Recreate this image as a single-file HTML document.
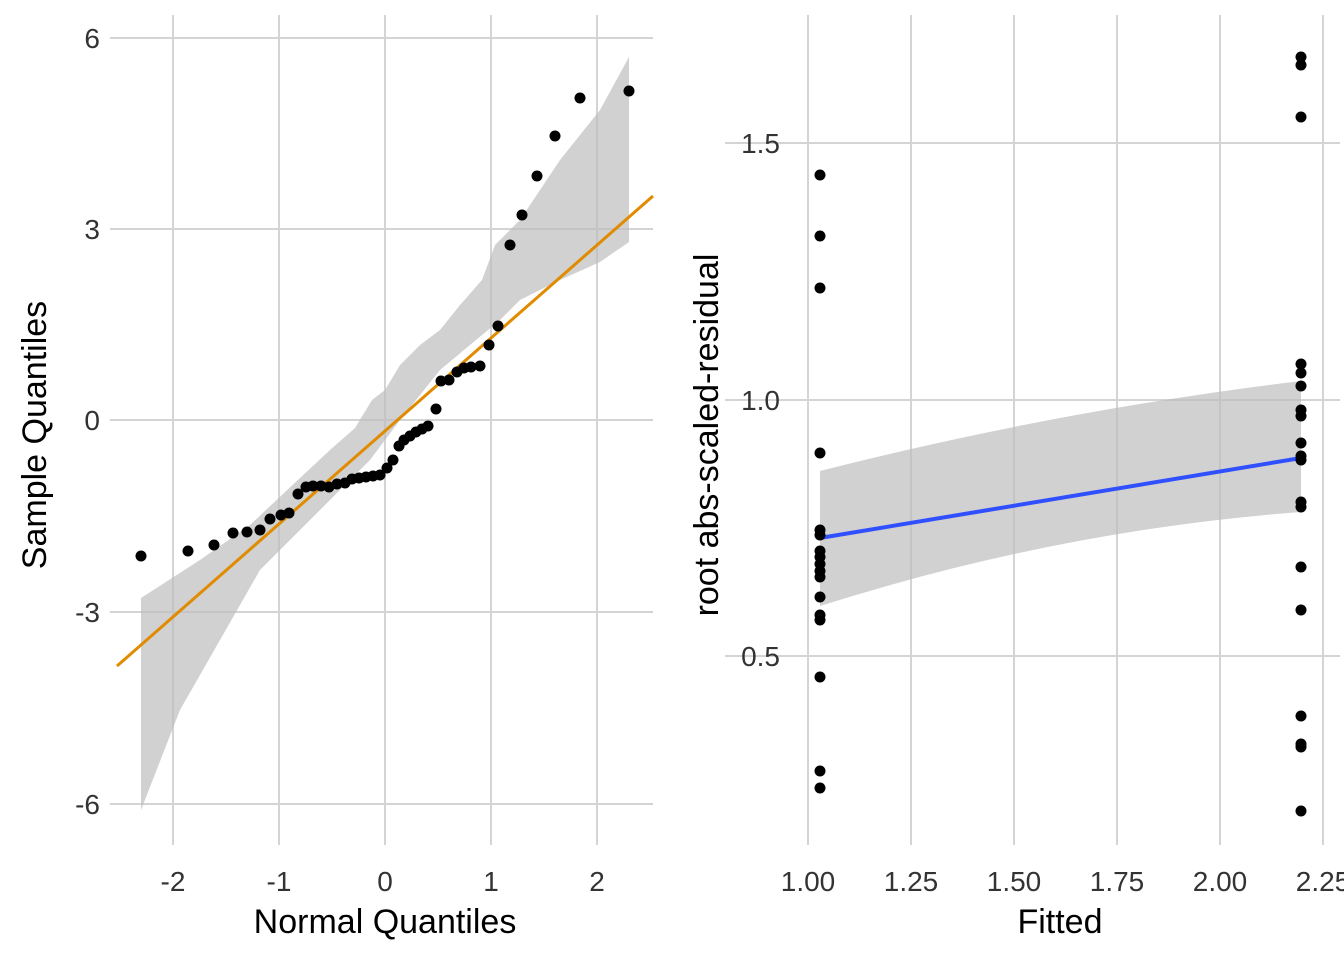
<!DOCTYPE html>
<html><head><meta charset="utf-8"><style>body{margin:0;background:#fff}svg{display:block}text{font-family:"Liberation Sans",sans-serif}</style></head><body>
<svg width="1344" height="960" viewBox="0 0 1344 960">
<g stroke="#d4d4d4" stroke-width="2" fill="none">
<line x1="110" y1="38" x2="653" y2="38"/><line x1="110" y1="229" x2="653" y2="229"/><line x1="110" y1="420" x2="653" y2="420"/><line x1="110" y1="612" x2="653" y2="612"/><line x1="110" y1="804" x2="653" y2="804"/>
<line x1="173" y1="15" x2="173" y2="845"/><line x1="279" y1="15" x2="279" y2="845"/><line x1="385" y1="15" x2="385" y2="845"/><line x1="491" y1="15" x2="491" y2="845"/><line x1="597" y1="15" x2="597" y2="845"/>
<line x1="725" y1="143" x2="1340" y2="143"/><line x1="725" y1="400" x2="1340" y2="400"/><line x1="725" y1="656" x2="1340" y2="656"/>
<line x1="808" y1="15" x2="808" y2="845"/><line x1="911" y1="15" x2="911" y2="845"/><line x1="1014" y1="15" x2="1014" y2="845"/><line x1="1117" y1="15" x2="1117" y2="845"/><line x1="1220" y1="15" x2="1220" y2="845"/><line x1="1323" y1="15" x2="1323" y2="845"/>
</g>
<polygon fill="#bdbdbd" fill-opacity="0.7" points="141,598 200,560 250,525 300,478 330,450 355,428 372,400 385,390 400,365 420,345 440,330 460,305 482,280 495,245 520,220 560,160 600,110 629,57 629,242 600,262 560,280 520,300 500,320 470,345 440,370 400,420 370,460 330,500 300,530 260,570 220,640 180,710 141,810"/>
<line x1="117" y1="666" x2="653" y2="196" stroke="#e08b00" stroke-width="3"/>
<g fill="#000">
<circle cx="141" cy="556" r="5.5"/><circle cx="188" cy="551" r="5.5"/><circle cx="214" cy="545" r="5.5"/><circle cx="233" cy="533" r="5.5"/><circle cx="247" cy="532" r="5.5"/><circle cx="260" cy="530" r="5.5"/><circle cx="270" cy="519" r="5.5"/><circle cx="281" cy="515" r="5.5"/><circle cx="289" cy="513" r="5.5"/><circle cx="298" cy="494" r="5.5"/><circle cx="306" cy="487" r="5.5"/><circle cx="313" cy="486" r="5.5"/><circle cx="321" cy="486" r="5.5"/><circle cx="329" cy="487" r="5.5"/><circle cx="337" cy="484" r="5.5"/><circle cx="345" cy="483" r="5.5"/><circle cx="352" cy="479" r="5.5"/><circle cx="359" cy="478" r="5.5"/><circle cx="366" cy="477" r="5.5"/><circle cx="373" cy="476" r="5.5"/><circle cx="380" cy="475" r="5.5"/><circle cx="387" cy="468" r="5.5"/><circle cx="393" cy="460" r="5.5"/><circle cx="399" cy="446" r="5.5"/><circle cx="404" cy="440" r="5.5"/><circle cx="410" cy="436" r="5.5"/><circle cx="416" cy="432" r="5.5"/><circle cx="422" cy="429" r="5.5"/><circle cx="428" cy="426" r="5.5"/><circle cx="436" cy="409" r="5.5"/><circle cx="441" cy="381" r="5.5"/><circle cx="449" cy="380" r="5.5"/><circle cx="457" cy="372" r="5.5"/><circle cx="464" cy="368" r="5.5"/><circle cx="471" cy="367" r="5.5"/><circle cx="480" cy="366" r="5.5"/><circle cx="489" cy="345" r="5.5"/><circle cx="498" cy="326" r="5.5"/><circle cx="510" cy="245" r="5.5"/><circle cx="522" cy="215" r="5.5"/><circle cx="537" cy="176" r="5.5"/><circle cx="555" cy="136" r="5.5"/><circle cx="580" cy="98" r="5.5"/><circle cx="629" cy="91" r="5.5"/>
</g>
<path fill="#bdbdbd" fill-opacity="0.7" d="M820,471 Q1060,410 1301,381 L1301,512 Q1060,530 820,606 Z"/>
<line x1="820" y1="538" x2="1301" y2="458" stroke="#3050ff" stroke-width="4"/>
<g fill="#000">
<circle cx="820" cy="175" r="5.5"/><circle cx="820" cy="236" r="5.5"/><circle cx="820" cy="288" r="5.5"/><circle cx="820" cy="453" r="5.5"/><circle cx="820" cy="530" r="5.5"/><circle cx="820" cy="535" r="5.5"/><circle cx="820" cy="551" r="5.5"/><circle cx="820" cy="557" r="5.5"/><circle cx="820" cy="564" r="5.5"/><circle cx="820" cy="571" r="5.5"/><circle cx="820" cy="577" r="5.5"/><circle cx="820" cy="597" r="5.5"/><circle cx="820" cy="615" r="5.5"/><circle cx="820" cy="620" r="5.5"/><circle cx="820" cy="677" r="5.5"/><circle cx="820" cy="771" r="5.5"/><circle cx="820" cy="788" r="5.5"/>
<circle cx="1301" cy="57" r="5.5"/><circle cx="1301" cy="65" r="5.5"/><circle cx="1301" cy="117" r="5.5"/><circle cx="1301" cy="364" r="5.5"/><circle cx="1301" cy="373" r="5.5"/><circle cx="1301" cy="386" r="5.5"/><circle cx="1301" cy="410" r="5.5"/><circle cx="1301" cy="416" r="5.5"/><circle cx="1301" cy="443" r="5.5"/><circle cx="1301" cy="456" r="5.5"/><circle cx="1301" cy="460" r="5.5"/><circle cx="1301" cy="502" r="5.5"/><circle cx="1301" cy="507" r="5.5"/><circle cx="1301" cy="567" r="5.5"/><circle cx="1301" cy="610" r="5.5"/><circle cx="1301" cy="716" r="5.5"/><circle cx="1301" cy="744" r="5.5"/><circle cx="1301" cy="747" r="5.5"/><circle cx="1301" cy="811" r="5.5"/>
</g>
<g fill="#333" font-size="28" text-anchor="end">
<text x="100" y="48">6</text><text x="100" y="239">3</text><text x="100" y="430">0</text><text x="100" y="622">-3</text><text x="100" y="814">-6</text>
<text x="780" y="153">1.5</text><text x="780" y="410">1.0</text><text x="780" y="666">0.5</text>
</g>
<g fill="#333" font-size="28" text-anchor="middle">
<text x="173" y="891">-2</text><text x="279" y="891">-1</text><text x="385" y="891">0</text><text x="491" y="891">1</text><text x="597" y="891">2</text>
<text x="808" y="891">1.00</text><text x="911" y="891">1.25</text><text x="1014" y="891">1.50</text><text x="1117" y="891">1.75</text><text x="1220" y="891">2.00</text><text x="1323" y="891">2.25</text>
</g>
<g fill="#000" font-size="34" text-anchor="middle">
<text x="385" y="933">Normal Quantiles</text><text x="1060" y="933">Fitted</text>
<text transform="translate(46,435) rotate(-90)">Sample Quantiles</text>
<text transform="translate(718,435) rotate(-90)">root abs-scaled-residual</text>
</g>
</svg></body></html>
